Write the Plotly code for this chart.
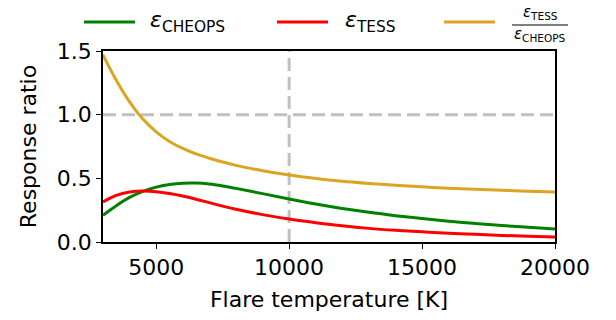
import plotly.graph_objects as go

# Data
temperature = [3000, 3500, 4000, 4500, 5000, 5500, 6000, 6500, 7000, 7500, 8000, 9000, 10000,
               11000, 12000, 13000, 14000, 15000, 16000, 17000, 18000, 19000, 20000]
eps_cheops = [0.21, 0.285, 0.35, 0.398, 0.431, 0.451, 0.462, 0.463, 0.455, 0.44, 0.421, 0.38, 0.338,
              0.298, 0.263, 0.233, 0.207, 0.184, 0.163, 0.146, 0.13, 0.115, 0.102]
eps_tess = [0.315, 0.366, 0.392, 0.40, 0.395, 0.381, 0.361, 0.336, 0.309, 0.282, 0.257, 0.215, 0.18,
            0.152, 0.127, 0.107, 0.092, 0.08, 0.069, 0.06, 0.052, 0.045, 0.039]
ratio = [1.47, 1.27, 1.10, 0.965, 0.865, 0.79, 0.735, 0.692, 0.658, 0.628, 0.602, 0.56, 0.526,
         0.499, 0.477, 0.46, 0.445, 0.433, 0.423, 0.414, 0.406, 0.399, 0.393]

x_ticks = [5000, 10000, 15000, 20000]
y_ticks = [0.0, 0.5, 1.0, 1.5]
ref_temperature = 10000
ref_ratio = 1.0

GREEN = "#008000"
RED = "#ff0000"
GOLD = "#daa520"
DASH_GREY = "#c0c0c0"
FONT = "DejaVu Sans"

W, H = 616, 320
L, R, T, B = 103, 61, 51, 78
PW, PH = W - L - R, H - T - B


def px(x):
    return (x - L) / PW


def py(y):
    return (T + PH - y) / PH


fig = go.Figure()

# reference dashed lines
fig.add_trace(go.Scatter(x=[temperature[0], temperature[-1]], y=[ref_ratio, ref_ratio], mode="lines",
                         line=dict(color=DASH_GREY, width=3, dash="13px,6px"), showlegend=False,
                         hoverinfo="skip"))
fig.add_trace(go.Scatter(x=[ref_temperature, ref_temperature], y=[y_ticks[0], y_ticks[-1]], mode="lines",
                         line=dict(color=DASH_GREY, width=3, dash="13px,6px"), showlegend=False,
                         hoverinfo="skip"))

for ys, col in [(eps_cheops, GREEN), (eps_tess, RED), (ratio, GOLD)]:
    fig.add_trace(go.Scatter(x=temperature, y=ys, mode="lines",
                             line=dict(color=col, width=3, shape="spline", smoothing=1.0),
                             showlegend=False))

# custom legend above plot
legend_y = 22
for (x0, x1, col) in [(84, 135, GREEN), (277, 328, RED), (444, 495, GOLD)]:
    fig.add_shape(type="line", xref="paper", yref="paper", x0=px(x0), x1=px(x1),
                  y0=py(legend_y), y1=py(legend_y), line=dict(color=col, width=3))

fig.add_annotation(xref="paper", yref="paper", x=px(148), y=py(legend_y), xanchor="left", yanchor="middle",
                   text="<i>ε</i><sub>CHEOPS</sub>", showarrow=False, font=dict(family=FONT, size=22, color="black"))
fig.add_annotation(xref="paper", yref="paper", x=px(343), y=py(legend_y), xanchor="left", yanchor="middle",
                   text="<i>ε</i><sub>TESS</sub>", showarrow=False, font=dict(family=FONT, size=22, color="black"))
# fraction
fig.add_annotation(xref="paper", yref="paper", x=px(540), y=py(13), xanchor="center", yanchor="middle",
                   text="<i>ε</i><sub>TESS</sub>", showarrow=False, font=dict(family=FONT, size=15, color="black"))
fig.add_annotation(xref="paper", yref="paper", x=px(540), y=py(35), xanchor="center", yanchor="middle",
                   text="<i>ε</i><sub>CHEOPS</sub>", showarrow=False, font=dict(family=FONT, size=15, color="black"))
fig.add_shape(type="line", xref="paper", yref="paper", x0=px(512), x1=px(568),
              y0=py(25), y1=py(25), line=dict(color="black", width=1))

axis_common = dict(showline=True, linecolor="black", linewidth=1.5, mirror=True, ticks="outside",
                   ticklen=5, tickwidth=1.3, tickcolor="black", showgrid=False, zeroline=False,
                   tickfont=dict(family=FONT, size=22, color="black"))

fig.update_xaxes(range=[temperature[0], temperature[-1]], tickvals=x_ticks,
                 ticktext=[str(v) for v in x_ticks],
                 title=dict(text="Flare temperature [K]", font=dict(family=FONT, size=22, color="black"), standoff=12),
                 **axis_common)
fig.update_yaxes(range=[y_ticks[0], y_ticks[-1]], tickvals=y_ticks,
                 ticktext=[f"{v:.1f}" for v in y_ticks],
                 title=dict(text="Response ratio", font=dict(family=FONT, size=22, color="black"), standoff=14),
                 **axis_common)

fig.update_layout(width=W, height=H, margin=dict(l=L, r=R, t=T, b=B, autoexpand=False),
                  plot_bgcolor="white", paper_bgcolor="white", showlegend=False,
                  font=dict(family=FONT, color="black"))

fig.write_html("out.html", config={"displayModeBar": False})
